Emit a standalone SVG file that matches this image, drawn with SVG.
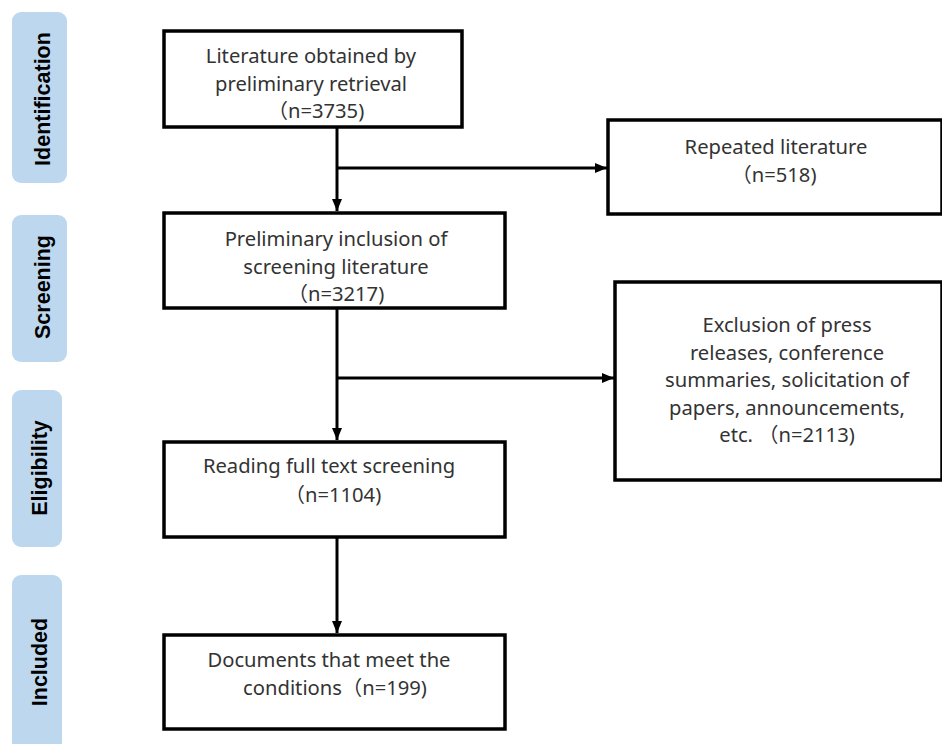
<svg xmlns="http://www.w3.org/2000/svg" width="942" height="744" viewBox="0 0 942 744">
<style>
.stage{fill:#bdd7ee;}
.stl{font-family:"Liberation Sans",Arial,sans-serif;font-weight:bold;font-size:21.5px;fill:#000;text-anchor:middle;}
.box{fill:#fff;stroke:#000;stroke-width:3.5;}
.t{font-family:"Noto Sans","Noto Sans CJK SC",sans-serif;font-size:20.2px;fill:#333;text-anchor:middle;}
.c{fill:none;stroke:#000;stroke-width:3;}
</style>
<defs>
<marker id="ah" markerUnits="userSpaceOnUse" markerWidth="12" markerHeight="10" refX="12" refY="5" orient="auto">
<path d="M0,0 L12,5 L0,10 Z" fill="#000"/>
</marker>
</defs>
<rect width="942" height="744" fill="#fff"/>
<g id="stage-identification">
<rect class="stage" x="12" y="12" width="55" height="171" rx="9"/>
<text class="stl" transform="translate(50,99) rotate(-90)">Identification</text>
</g>
<g id="stage-screening">
<rect class="stage" x="12" y="215" width="55" height="147" rx="9"/>
<text class="stl" transform="translate(50,287) rotate(-90)">Screening</text>
</g>
<g id="stage-eligibility">
<rect class="stage" x="12" y="390" width="50" height="157" rx="9"/>
<text class="stl" transform="translate(47,468) rotate(-90)">Eligibility</text>
</g>
<g id="stage-included">
<rect class="stage" x="12" y="575" width="50" height="180" rx="9"/>
<text class="stl" transform="translate(47,662) rotate(-90)">Included</text>
</g>
<g id="connectors">
<path class="c" d="M337,127 V211" marker-end="url(#ah)"/>
<path class="c" d="M337,168 H607" marker-end="url(#ah)"/>
<path class="c" d="M337,308 V440" marker-end="url(#ah)"/>
<path class="c" d="M337,378 H614" marker-end="url(#ah)"/>
<path class="c" d="M337,537 V633" marker-end="url(#ah)"/>
</g>
<g id="box-retrieval">
<rect class="box" x="164" y="31" width="298" height="96"/>
<text class="t" x="311" y="63">Literature obtained by</text>
<text class="t" x="311" y="90.5">preliminary retrieval</text>
<text class="t" x="316" y="118">（n=3735)</text>
</g>
<g id="box-repeated">
<rect class="box" x="608" y="120" width="334" height="94"/>
<text class="t" x="776" y="154">Repeated literature</text>
<text class="t" x="774" y="181.5">（n=518)</text>
</g>
<g id="box-preliminary">
<rect class="box" x="164" y="213" width="341" height="95"/>
<text class="t" x="336" y="246">Preliminary inclusion of</text>
<text class="t" x="336" y="273.5">screening literature</text>
<text class="t" x="336" y="301">（n=3217)</text>
</g>
<g id="box-exclusion">
<rect class="box" x="615" y="282" width="327" height="198"/>
<text class="t" x="787" y="332">Exclusion of press</text>
<text class="t" x="787" y="359.5">releases, conference</text>
<text class="t" x="787" y="387">summaries, solicitation of</text>
<text class="t" x="787" y="414.5">papers, announcements,</text>
<text class="t" x="787" y="442">etc. （n=2113)</text>
</g>
<g id="box-fulltext">
<rect class="box" x="164" y="442" width="341" height="95"/>
<text class="t" x="329" y="473">Reading full text screening</text>
<text class="t" x="333" y="502">（n=1104)</text>
</g>
<g id="box-included">
<rect class="box" x="164" y="635" width="341" height="94"/>
<text class="t" x="329" y="667">Documents that meet the</text>
<text class="t" x="335" y="694.5">conditions（n=199)</text>
</g>
</svg>
